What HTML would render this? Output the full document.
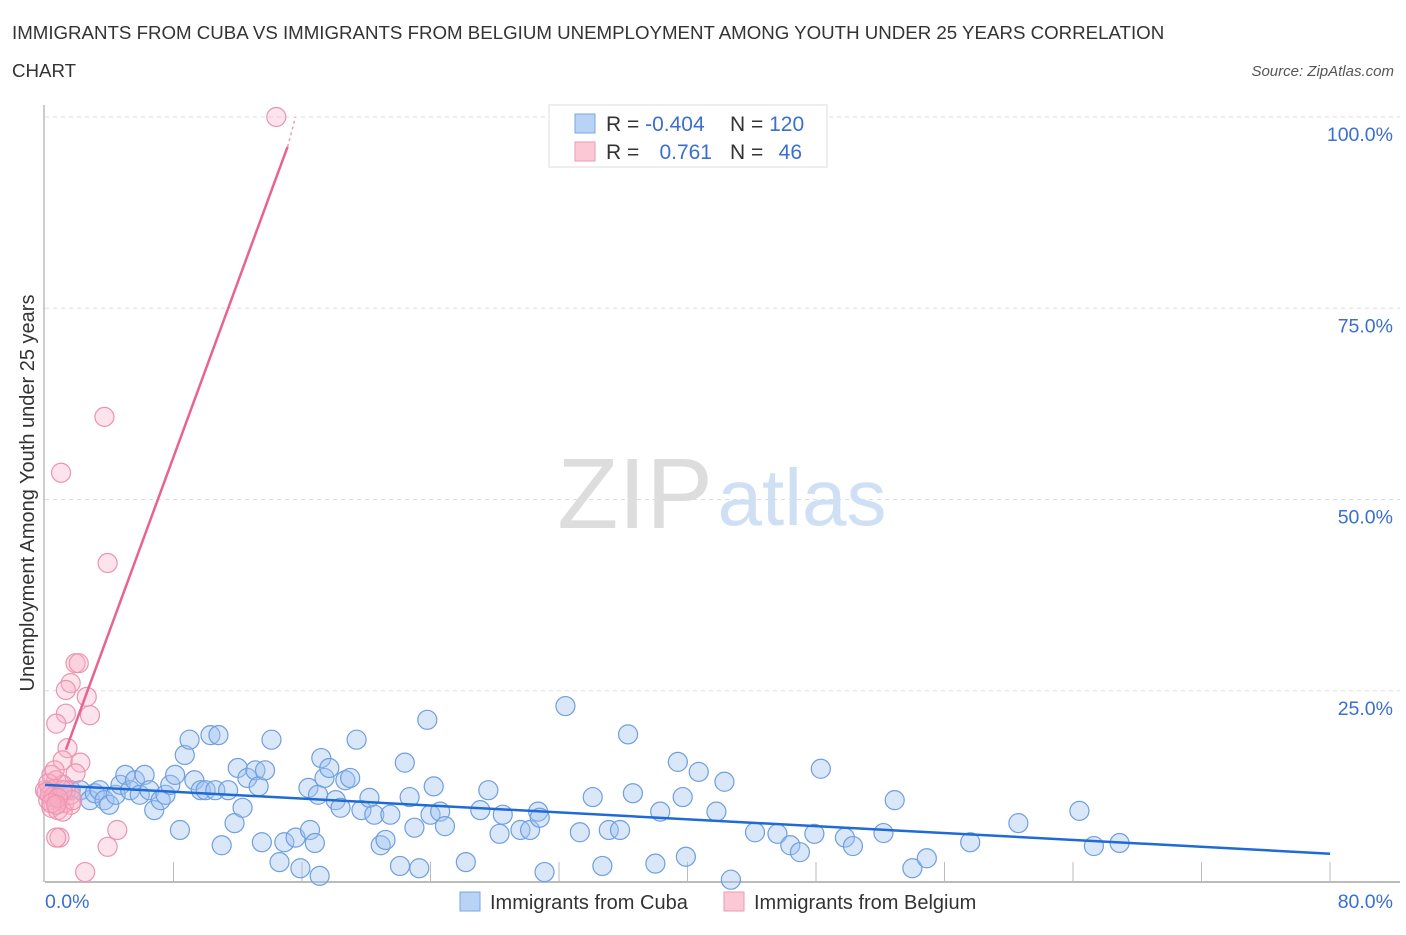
<!DOCTYPE html>
<html><head><meta charset="utf-8"><style>
body{margin:0;background:#fff;font-family:"Liberation Sans",sans-serif;}
svg text{font-family:"Liberation Sans",sans-serif;}
</style></head><body>
<svg id="chart" width="1406" height="930" viewBox="0 0 1406 930" xmlns="http://www.w3.org/2000/svg">
<text x="12" y="39" font-size="18.7" fill="#333">IMMIGRANTS FROM CUBA VS IMMIGRANTS FROM BELGIUM UNEMPLOYMENT AMONG YOUTH UNDER 25 YEARS CORRELATION</text>
<text x="12" y="77" font-size="18.7" fill="#333">CHART</text>
<text x="1394" y="76" font-size="15" font-style="italic" fill="#555" text-anchor="end">Source: ZipAtlas.com</text>
<g id="grid"></g>
<g>
<text x="635" y="528" font-size="100" font-family="Liberation Serif" fill="#ddd" text-anchor="middle">ZIP</text>
<text x="802" y="525" font-size="80" fill="#cfe0f5" text-anchor="middle">atlas</text>
</g>
<g id="axes"></g>
<g id="blue"></g>
<g id="pink"></g>
<g id="trends"></g>
<g>
<rect x="549" y="105" width="278" height="62" fill="#fff" stroke="#ddd"/>
<rect x="575" y="114" width="20" height="19" fill="#b8d3f5" stroke="#7aa7e0"/>
<rect x="575" y="142" width="20" height="19" fill="#fbc8d6" stroke="#eb9ab3"/>
<text x="606" y="131" font-size="21" fill="#333">R = <tspan fill="#3a6fd0">-0.404</tspan></text>
<text x="730" y="131" font-size="21" fill="#333">N = <tspan fill="#3a6fd0">120</tspan></text>
<text x="606" y="159" font-size="21" fill="#333">R = </text>
<text x="712" y="159" font-size="21" fill="#3a6fd0" text-anchor="end">0.761</text>
<text x="730" y="159" font-size="21" fill="#333">N = </text>
<text x="802" y="159" font-size="21" fill="#3a6fd0" text-anchor="end">46</text>
</g>
<g>
<rect x="460" y="892" width="20" height="19" fill="#b8d3f5" stroke="#7aa7e0"/>
<text x="490" y="909" font-size="20" fill="#333">Immigrants from Cuba</text>
<rect x="724" y="892" width="20" height="19" fill="#fbc8d6" stroke="#eb9ab3"/>
<text x="754" y="909" font-size="20" fill="#333">Immigrants from Belgium</text>
</g>
<text transform="translate(34,493) rotate(-90)" font-size="20" fill="#333" text-anchor="middle">Unemployment Among Youth under 25 years</text>
</svg>
<script>
const blueX=[0.9,1.6,2.2,2.8,3.1,3.4,3.7,4.0,4.4,4.7,5.0,5.3,5.6,5.9,6.2,6.5,6.8,7.2,7.5,7.8,8.1,8.4,8.7,9.0,9.3,9.7,10.0,10.3,10.6,10.8,11.0,11.4,11.8,12.0,12.3,12.6,13.1,13.3,13.5,13.7,14.1,14.6,14.9,15.6,15.9,16.4,16.5,16.8,17.0,17.1,17.2,17.4,17.7,18.1,18.4,18.7,19.0,19.4,19.7,20.2,20.5,20.9,21.2,21.5,22.1,22.4,22.7,23.0,23.3,23.8,24.0,24.2,24.6,24.9,26.2,27.1,27.6,28.3,28.5,29.6,30.2,30.7,30.8,31.1,32.4,33.3,34.1,34.7,35.1,35.8,36.6,36.3,38.0,38.3,39.4,39.7,39.9,40.7,41.8,42.3,42.7,44.2,45.6,46.4,47.0,47.9,48.3,49.8,50.3,52.2,52.9,54.0,54.9,57.6,60.6,64.4,65.3,66.9];
const blueY=[11.4,12.0,12.0,10.7,11.6,12.0,10.7,10.1,11.4,12.7,14.0,12.0,13.3,11.4,14.0,12.0,9.4,10.7,11.4,12.7,14.0,6.8,16.6,18.6,13.3,12.0,12.0,19.2,12.0,19.2,4.8,12.0,7.7,14.9,9.7,13.6,14.6,12.5,5.2,14.6,18.6,2.6,5.2,5.8,1.8,12.3,6.8,5.1,11.4,0.8,16.2,13.6,14.9,10.7,9.7,13.3,13.6,18.6,9.4,11.0,8.8,4.8,5.5,8.8,2.1,15.6,11.1,7.1,1.8,21.2,8.8,12.5,9.2,7.3,2.6,9.4,12.0,6.3,8.8,6.8,6.8,9.2,8.4,1.3,23.0,6.5,11.1,2.1,6.8,6.8,11.6,19.3,2.4,9.2,15.7,11.1,3.3,14.4,9.2,13.1,0.3,6.5,6.3,4.8,3.9,6.3,14.8,5.8,4.7,6.4,10.7,1.8,3.1,5.2,7.7,9.3,4.7,5.1];
const pinkX=[14.4,3.7,1.0,3.9,1.9,2.1,1.6,1.3,2.6,2.8,1.3,0.7,1.4,2.2,1.1,1.9,0.4,0.7,1.1,0.3,0.6,0.2,0.9,1.2,1.6,0.4,0.8,1.1,0.0,0.2,0.6,1.6,0.9,0.7,4.5,3.9,2.5,0.3,0.5,0.1,1.3,1.7,1.1,0.8,0.4,0.7];
const pinkY=[100,60.8,53.5,41.7,28.6,28.6,26.0,25.1,24.2,21.8,22.0,20.7,17.5,15.6,15.9,14.2,14.0,13.3,12.7,12.0,11.4,10.7,10.7,10.3,10.1,9.7,9.4,9.2,12.0,12.9,14.6,11.4,5.8,5.8,6.8,4.6,1.3,11.4,11.1,11.8,12.0,10.7,12.0,11.0,10.3,10.1];
const blueTrend=[0,12.7,80,3.7];
const pinkTrend=[1.3,17.3,15.1,96.1];
const pinkTrendExt=[15.1,96.1,15.6,100];
const yTicks=[25,50,75,100];
const yTickLabels=["25.0%","50.0%","75.0%","100.0%"];
const xTicks=[8,16,24,32,40,48,56,64,72,80];

const NS="http://www.w3.org/2000/svg";
const X0=45,X1=1330,Y0=882,Y1=117;
function sx(v){return X0+(v/80)*(X1-X0);}
function sy(v){return Y0-(v/100)*(Y0-Y1);}
function mk(tag,attrs,parent){const e=document.createElementNS(NS,tag);for(const k in attrs)e.setAttribute(k,attrs[k]);parent.appendChild(e);return e;}
const grid=document.getElementById('grid'),axes=document.getElementById('axes');
yTicks.forEach((t,i)=>{
  const l=mk('line',{x1:X0,x2:1400,y1:sy(t),y2:sy(t),stroke:'#ddd','stroke-dasharray':'4,4'},grid);
  
  
  const tx=mk('text',{x:1393,y:sy(t)+24,'font-size':19.5,fill:'#3a6fd0','text-anchor':'end'},axes);
  tx.textContent=yTickLabels[i];
  
  
});
const ax=mk('line',{x1:X0,x2:1400,y1:Y0,y2:Y0,stroke:'#bbb','stroke-width':2},axes);


const ay=mk('line',{x1:X0-1,x2:X0-1,y1:105,y2:Y0,stroke:'#bbb','stroke-width':1.5},axes);


xTicks.forEach(t=>{
  const l=mk('line',{x1:sx(t),x2:sx(t),y1:Y0,y2:Y0-20,stroke:'#bbb'},axes);
  
  
});
const xl0=mk('text',{x:45,y:908,'font-size':19.5,fill:'#3a6fd0'},axes);xl0.textContent='0.0%';


const xl1=mk('text',{x:1393,y:908,'font-size':19.5,fill:'#3a6fd0','text-anchor':'end'},axes);xl1.textContent='80.0%';


const bg=document.getElementById('blue');
blueX.forEach((v,i)=>{
  const c=mk('circle',{cx:sx(v),cy:sy(blueY[i]),r:9.5,fill:'rgba(160,196,240,0.4)',stroke:'#6e9fdf','stroke-width':1.2},bg);
  
  
});
const pg=document.getElementById('pink');
pinkX.forEach((v,i)=>{
  const c=mk('circle',{cx:sx(v),cy:sy(pinkY[i]),r:9.5,fill:'rgba(248,176,198,0.35)',stroke:'#eb94b0','stroke-width':1.2},pg);
  
  
});
const tg=document.getElementById('trends');
const bl=mk('line',{x1:sx(blueTrend[0]),y1:sy(blueTrend[1]),x2:sx(blueTrend[2]),y2:sy(blueTrend[3]),stroke:'#1f6ad6','stroke-width':2.5},tg);


const pl=mk('line',{x1:sx(pinkTrend[0]),y1:sy(pinkTrend[1]),x2:sx(pinkTrend[2]),y2:sy(pinkTrend[3]),stroke:'#e8638e','stroke-width':2.5},tg);


const pe=mk('line',{x1:sx(pinkTrendExt[0]),y1:sy(pinkTrendExt[1]),x2:sx(pinkTrendExt[2]),y2:sy(pinkTrendExt[3]),stroke:'#eaa0b8','stroke-width':1.5,'stroke-dasharray':'3,3'},tg);


</script>
</body></html>
